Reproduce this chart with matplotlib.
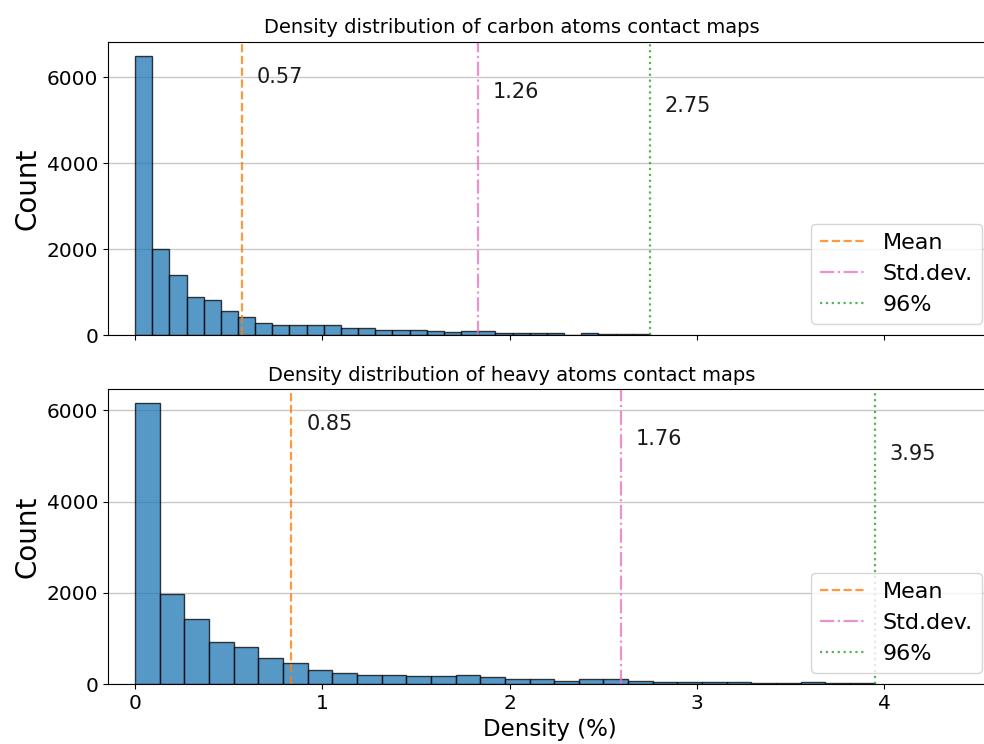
import numpy as np
import matplotlib
matplotlib.use("Agg")
import matplotlib.pyplot as plt

# histogram counts, 30 bins from 0 to the 96% quantile
carbon_counts = [6500, 1990, 1400, 880, 820, 560, 430, 290, 230, 230,
                 230, 230, 165, 165, 125, 120, 115, 90, 60, 90,
                 90, 50, 50, 50, 45, 10, 45, 20, 15, 15]
heavy_counts = [6160, 1970, 1420, 925, 805, 560, 455, 300, 235, 205,
                205, 170, 170, 205, 150, 110, 100, 75, 100, 100,
                75, 45, 45, 45, 50, 15, 15, 50, 20, 15]

carbon_stats = {"mean": 0.57, "std": 1.26, "q96": 2.75}
heavy_stats = {"mean": 0.834, "std": 1.76, "q96": 3.95}
carbon_labels = ["0.57", "1.26", "2.75"]
heavy_labels = ["0.85", "1.76", "3.95"]

titles = ["Density distribution of carbon atoms contact maps",
          "Density distribution of heavy atoms contact maps"]

fig = plt.figure(figsize=(9.84, 7.44), dpi=100)
ax1 = fig.add_axes([0.1098, 0.5497, 0.899, 0.3943])
ax2 = fig.add_axes([0.1098, 0.0806, 0.899, 0.3965], sharex=ax1)


def draw(ax, counts, stats, labels, title):
    edges = np.linspace(0, stats["q96"], len(counts) + 1)
    ax.set_axisbelow(True)
    ax.grid(axis="y", color="#c8c8c8", linewidth=1)
    ax.bar(edges[:-1], counts, width=np.diff(edges), align="edge",
           color="#1f77b4", alpha=0.75, edgecolor="black", linewidth=1)
    xs = [stats["mean"], stats["mean"] + stats["std"], stats["q96"]]
    ax.axvline(xs[0], color="#ff7f0e", ls="--", lw=1.6, alpha=0.8, label="Mean")
    ax.axvline(xs[1], color="#e377c2", ls="-.", lw=1.6, alpha=0.8, label="Std.dev.")
    ax.axvline(xs[2], color="#2ca02c", ls=":", lw=1.6, alpha=0.8, label="96%")
    for x, lab, yf in zip(xs, labels, [0.88, 0.83, 0.78]):
        ax.text(x + 0.08, yf, lab, transform=ax.get_xaxis_transform(),
                va="center", ha="left", fontsize=15, color="#1a1a1a")
    ax.set_title(title, fontsize=14, x=0.4567)
    ax.set_ylabel("Count", fontsize=20)
    ax.tick_params(labelsize=14.5)
    ax.legend(loc="lower right", fontsize=16)
    ax.set_yticks([0, 2000, 4000, 6000])


draw(ax1, carbon_counts, carbon_stats, carbon_labels, titles[0])
draw(ax2, heavy_counts, heavy_stats, heavy_labels, titles[1])
ax1.tick_params(labelbottom=False)
ax1.set_xlim(-0.144, 4.58)
ax2.set_xticks([0, 1, 2, 3, 4])
ax2.set_xlabel("Density (%)", fontsize=16.5, x=0.5)

fig.savefig("out.png", dpi=100)
